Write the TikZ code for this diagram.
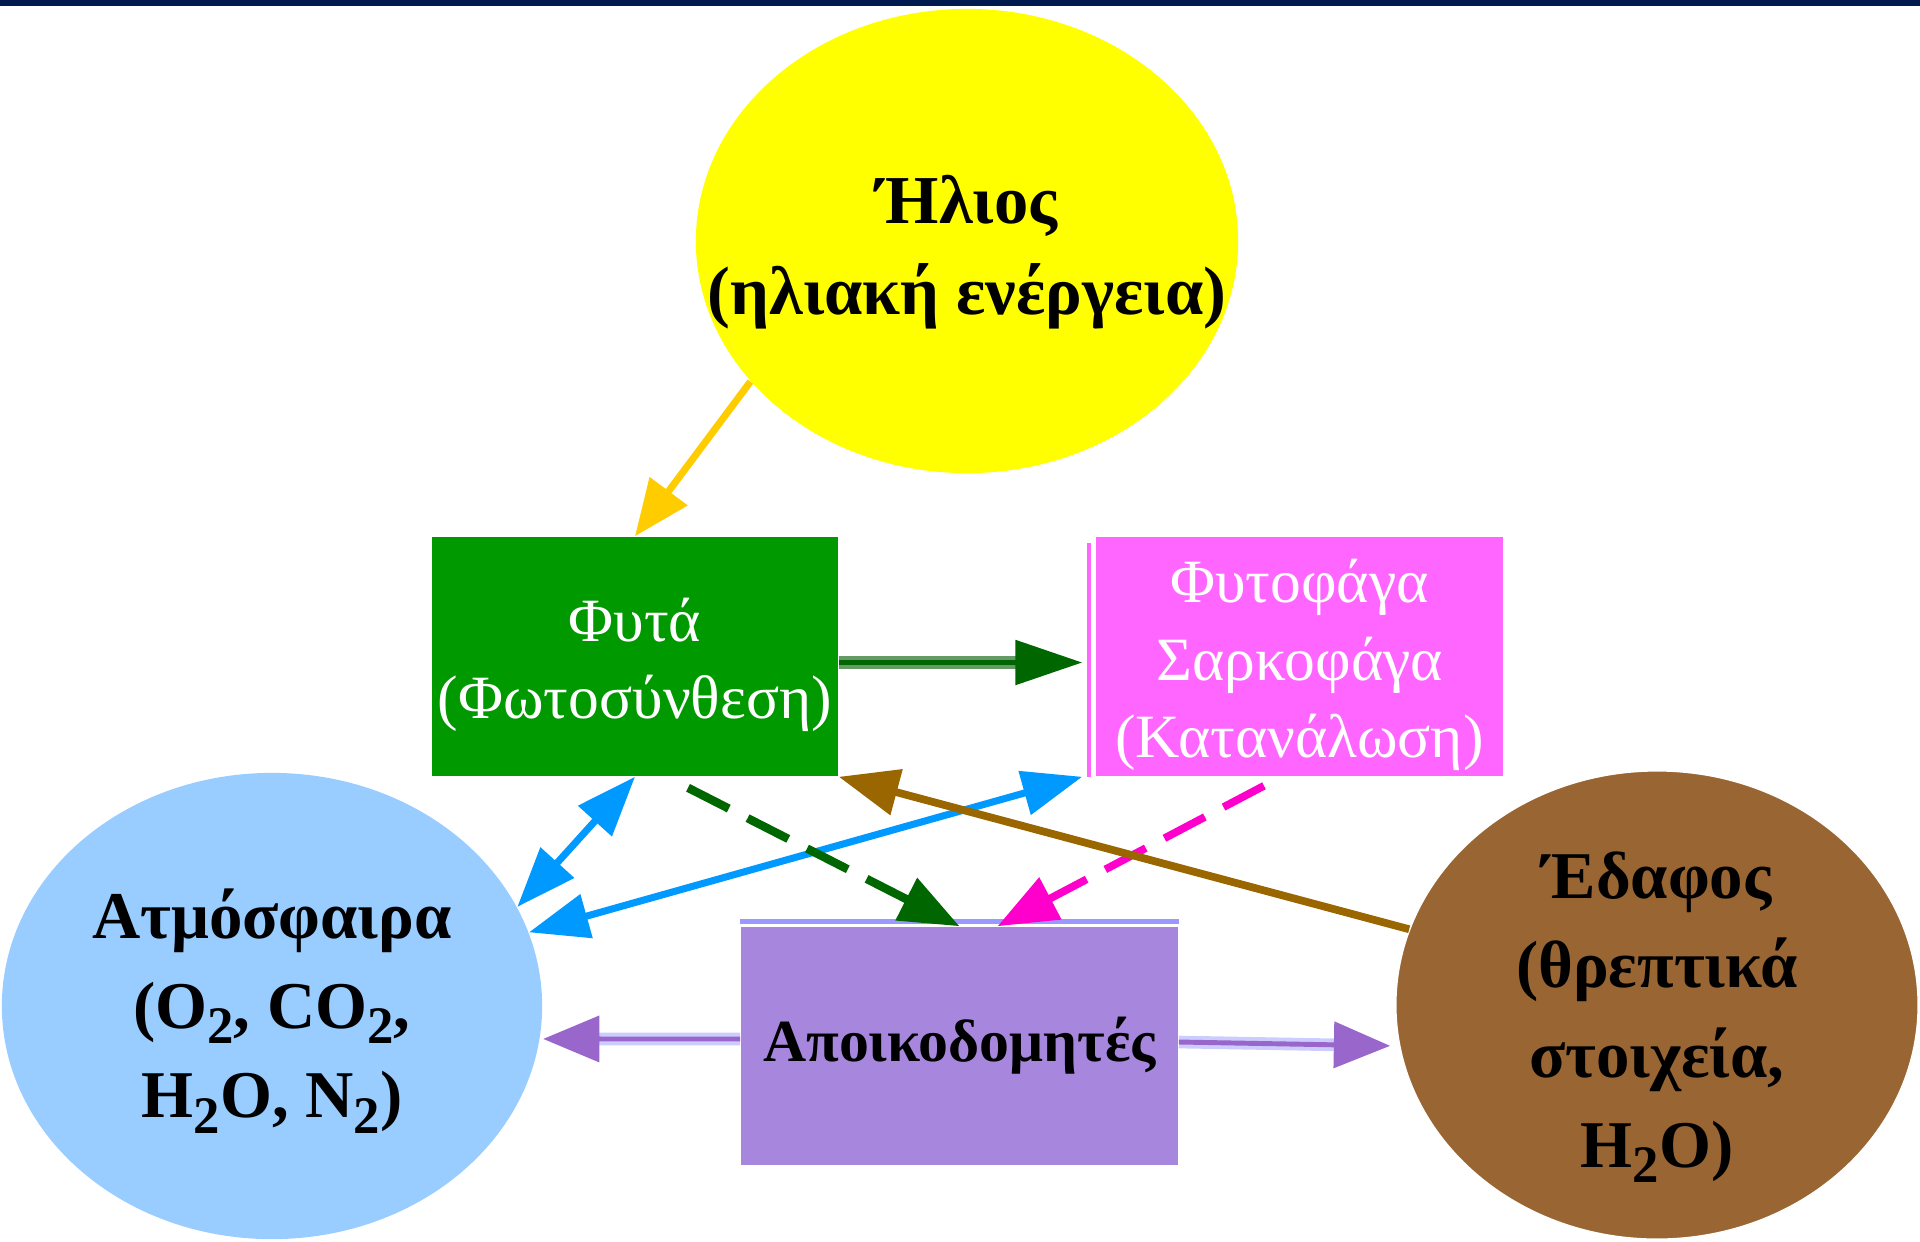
\documentclass[tikz,border=0pt]{standalone}
\usepackage{fontspec}
\setmainfont{Liberation Serif}
\usetikzlibrary{shapes.geometric,arrows.meta}
\definecolor{barblue}{RGB}{0,26,80}
\definecolor{sunyellow}{RGB}{255,255,0}
\definecolor{rayorange}{RGB}{255,204,0}
\definecolor{plantgreen}{RGB}{0,153,0}
\definecolor{darkg}{RGB}{0,102,0}
\definecolor{lightg}{RGB}{102,153,102}
\definecolor{eatpink}{RGB}{255,102,255}
\definecolor{decomp}{RGB}{167,135,222}
\definecolor{decband}{RGB}{153,153,255}
\definecolor{airblue}{RGB}{153,204,255}
\definecolor{soilbrown}{RGB}{153,102,51}
\definecolor{skyc}{RGB}{0,153,255}
\definecolor{magc}{RGB}{255,0,204}
\definecolor{mudc}{RGB}{153,102,0}
\definecolor{violc}{RGB}{153,102,204}
\definecolor{lavc}{RGB}{204,204,255}
% chemical subscript, larger and lower than \textsubscript
\newcommand\chemsub[1]{\raisebox{-0.5ex}{\fontsize{15}{15}\selectfont #1}}

\begin{document}
\begin{tikzpicture}[x=0.01cm, y=-0.01cm,
  blob/.style={shape=ellipse, inner sep=0pt},
  box/.style={shape=rectangle, inner sep=0pt},
  bigtxt/.style={align=center, font=\fontsize{19}{25.5}\selectfont\bfseries},
  boxtxt/.style={align=center, text=white, font=\fontsize{17.5}{22}\selectfont},
  flow/.style={line width=2.2pt, -{Triangle[length=17pt, width=13pt]}},
  both/.style={line width=2pt,
    {Triangle[length=17pt, width=12.5pt]}-{Triangle[length=17pt, width=12.5pt]}},
  halo/.style={preaction={draw=#1, line width=3.6pt, -, shorten >=15pt}},
  dashy/.style={dash pattern=on 13pt off 6pt}
]
\useasboundingbox (0,0) rectangle (1920,1241);
\fill[barblue] (0,0) rectangle (1920,6);

% sun, air and soil
\node[blob, fill=sunyellow, minimum width=5.42cm, minimum height=4.64cm] (sun) at (967,241) {};
\node[bigtxt, font=\fontsize{19.5}{26}\selectfont\bfseries] (sunlbl) at (967,252)
  {Ήλιος\\(ηλιακή ενέργεια)};
\node[blob, fill=airblue, minimum width=5.4cm, minimum height=4.66cm] (atmos) at (272,1006) {};
\node[bigtxt] (atmoslbl) at (272,1011)
  {Ατμόσφαιρα\\(O\chemsub{2}, CO\chemsub{2},\\H\chemsub{2}O, N\chemsub{2})};
\node[blob, fill=soilbrown, draw=white, minimum width=5.22cm, minimum height=4.68cm] (soil)
  at (1657,1005) {};
\node[bigtxt] (soillbl) at (1657,1017) {Έδαφος\\(θρεπτικά\\στοιχεία,\\H\chemsub{2}O)};

% boxes
\node[box, fill=plantgreen, minimum width=4.06cm, minimum height=2.39cm] (plants)
  at (635,656.5) {};
\node[boxtxt] (plantslbl) at (635,665) {Φυτά\\(Φωτοσύνθεση)};
\node[box, fill=eatpink, minimum width=4.07cm, minimum height=2.39cm] (cons)
  at (1299.5,656.5) {};
\node[boxtxt] (conslbl) at (1299.5,665) {Φυτοφάγα\\Σαρκοφάγα\\(Κατανάλωση)};
\draw[eatpink, line width=1pt] ([xshift=-0.06cm, yshift=-0.07cm]cons.north west)
  -- ([xshift=-0.06cm]cons.south west);
\node[box, fill=decomp, font=\fontsize{17}{22}\selectfont\bfseries,
  minimum width=4.37cm, minimum height=2.38cm] (decomp) at (959.5,1046) {Αποικοδομητές};
\draw[decband, line width=1.4pt] ([yshift=0.045cm]decomp.north west)
  -- ([yshift=0.045cm]decomp.north east);

% arrows
\draw[flow, rayorange, line width=2pt, -{Triangle[length=16pt, width=13pt]}]
  (sun.213) -- (plants.north);
\draw[darkg, line width=1.6pt, halo=lightg, -{Triangle[length=19pt, width=12.5pt]}]
  ([yshift=-0.06cm]plants.east) -- ([xshift=-0.13cm, yshift=-0.06cm]cons.west);
\draw[both, skyc] (plants.south) -- (atmos.22);
\draw[both, skyc] ([xshift=-0.13cm]cons.south west) -- (atmos.16);
\draw[flow, darkg, dashy, line width=2.4pt] ([xshift=0.53cm, yshift=-0.11cm]plants.south)
  -- (decomp.north);
\draw[flow, magc, dashy] ([xshift=-0.355cm, yshift=-0.09cm]cons.south)
  -- ([xshift=0.38cm]decomp.north);
\draw[flow, mudc] (soil.163) -- (plants.south east);
\draw[violc, line width=1.4pt, halo=lavc, -{Triangle[length=16pt, width=13pt]}]
  ([yshift=0.07cm]decomp.west) -- ([xshift=0.03cm]atmos.-7);
\draw[violc, line width=1.4pt, halo=lavc, -{Triangle[length=16pt, width=13pt]}]
  ([yshift=0.04cm]decomp.east) -- ([xshift=-0.09cm]soil.189);
\end{tikzpicture}
\end{document}
